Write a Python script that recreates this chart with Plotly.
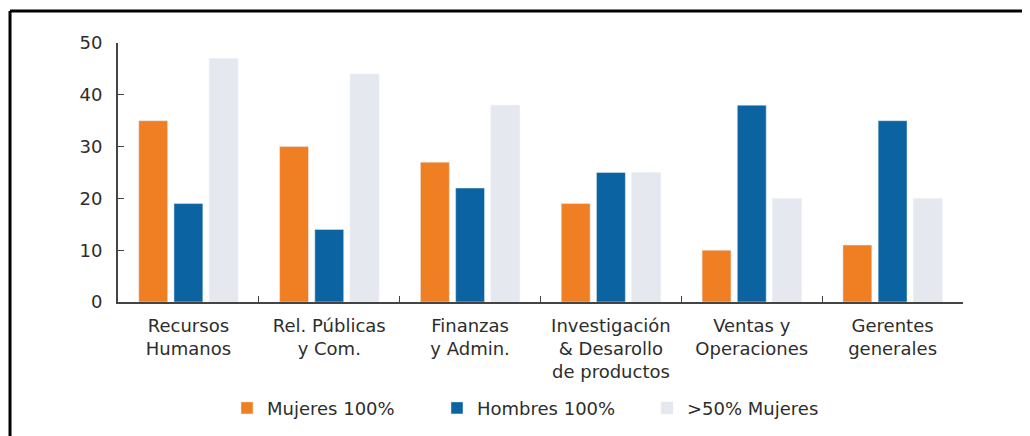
import plotly.graph_objects as go

categorias = ["Recursos<br>Humanos", "Rel. Públicas<br>y Com.", "Finanzas<br>y Admin.",
              "Investigación<br>&amp; Desarollo<br>de productos", "Ventas y<br>Operaciones",
              "Gerentes<br>generales"]
mujeres_100 = [35, 30, 27, 19, 10, 11]
hombres_100 = [19, 14, 22, 25, 38, 35]
mayoria_mujeres = [47, 44, 38, 25, 20, 20]

fig = go.Figure()
fig.add_trace(go.Bar(x=categorias, y=mujeres_100, name="Mujeres 100%", marker_color="#F07E22"))
fig.add_trace(go.Bar(x=categorias, y=hombres_100, name="Hombres 100%", marker_color="#0B63A2"))
fig.add_trace(go.Bar(x=categorias, y=mayoria_mujeres, name=">50% Mujeres", marker_color="#E5E8EE"))

# marco negro del recorte original
fig.add_shape(type="line", xref="paper", yref="paper", x0=-0.1278, x1=-0.1278, y0=1.124, y1=-0.6,
              line=dict(color="black", width=3))
fig.add_shape(type="line", xref="paper", yref="paper", x0=-0.1278, x1=1.2, y0=1.124, y1=1.124,
              line=dict(color="black", width=3))

# la página tiene 8px de margen en body, así que la figura es algo más pequeña
fig.update_layout(
    width=1022, height=428,
    margin=dict(l=110, r=67, t=35, b=134),
    plot_bgcolor="white", paper_bgcolor="white",
    font=dict(family="DejaVu Sans", size=18, color="#2d2d2d"),
    barmode="group", bargap=0.25, bargroupgap=0.18,
    legend=dict(orientation="h", x=0.129, xanchor="left", yref="container", y=0.065,
                yanchor="middle", entrywidth=165, font=dict(size=18)),
    showlegend=True,
)
fig.update_xaxes(showline=True, linecolor="#444444", linewidth=2, tickson="boundaries",
                 ticks="inside", ticklen=6, tickcolor="#444444", showgrid=False,
                 ticklabelstandoff=6, automargin=False)
fig.update_yaxes(range=[0, 50], dtick=10, showline=True, linecolor="#444444", linewidth=2,
                 ticks="inside", ticklen=6, tickcolor="#444444", showgrid=False,
                 zeroline=False, ticklabelstandoff=10, automargin=False)

fig.write_html("out.html")
